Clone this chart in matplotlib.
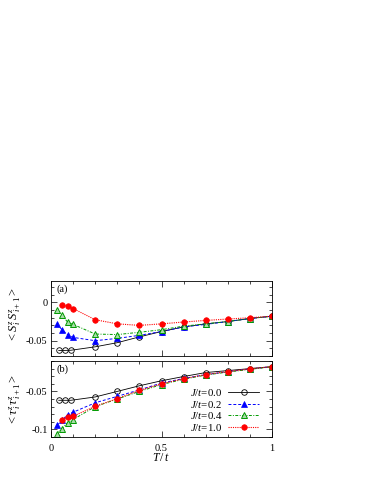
import matplotlib
matplotlib.use("Agg")
import matplotlib.pyplot as plt
from matplotlib.ticker import MultipleLocator, FixedLocator

plt.rcParams['font.family'] = ['Liberation Serif', 'DejaVu Serif']
plt.rcParams['mathtext.fontset'] = 'custom'
plt.rcParams['mathtext.rm'] = 'Liberation Serif'
plt.rcParams['mathtext.it'] = 'Liberation Serif:italic'
plt.rcParams['font.size'] = 7.5

# temperatures
T_low4 = [0.025, 0.05, 0.075, 0.1]
T_low3 = [0.05, 0.075, 0.1]
T_circ = [0.035, 0.0625, 0.09]
T_hi = [0.2, 0.3, 0.4, 0.5, 0.6, 0.7, 0.8, 0.9, 1.0]

T_J00 = T_circ + T_hi
T_J02 = T_low4 + T_hi
T_J04 = T_low4 + T_hi
T_J10 = T_low3 + T_hi

# panel (a): <S^z_i S^z_{i+1}>
S_J00 = [-0.0627, -0.0627, -0.0625, -0.058, -0.0526, -0.045, -0.038, -0.032, -0.028, -0.025, -0.021, -0.018]
S_J02 = [-0.028, -0.0356, -0.042, -0.0457, -0.050, -0.047, -0.043, -0.038, -0.032, -0.0287, -0.025, -0.021, -0.018]
S_J04 = [-0.0095, -0.017, -0.0256, -0.0287, -0.0413, -0.042, -0.039, -0.0356, -0.031, -0.028, -0.025, -0.021, -0.018]
S_J10 = [-0.003, -0.005, -0.008, -0.0226, -0.028, -0.030, -0.028, -0.0256, -0.0235, -0.0217, -0.020, -0.018]

# panel (b): <tau^z_i tau^z_{i+1}>
U_J00 = [-0.0617, -0.0617, -0.0617, -0.0573, -0.050, -0.0426, -0.036, -0.0304, -0.0252, -0.0226, -0.020, -0.0174]
U_J02 = [-0.0948, -0.088, -0.0804, -0.0774, -0.065, -0.0565, -0.048, -0.039, -0.033, -0.028, -0.024, -0.0205, -0.0175]
U_J04 = [-0.1056, -0.099, -0.091, -0.087, -0.070, -0.060, -0.050, -0.041, -0.034, -0.0285, -0.0245, -0.021, -0.0176]
U_J10 = [-0.087, -0.0834, -0.0826, -0.0696, -0.0595, -0.0487, -0.040, -0.0334, -0.0278, -0.0239, -0.0204, -0.0174]

labels = [r'$J/t$=0.0', r'$J/t$=0.2', r'$J/t$=0.4', r'$J/t$=1.0']
xticks = [0, 0.5, 1]
xticklabels = ['0', '0.5', '1']

styles = [
    dict(color='black', ls='-', marker='o', mfc='none', mec='black', ms=4.0, lw=0.6, mew=0.6),
    dict(color='#0000ff', ls=(0, (3, 2)), marker='^', mfc='#0000ff', mec='#0000ff', ms=3.8, lw=0.7, mew=0.5),
    dict(color='#009a00', ls=(0, (3, 1.5, 1, 1.5)), marker='^', mfc='#a8dca8', mec='#009a00', ms=4.2, lw=0.7, mew=0.7),
    dict(color='#ff0000', ls=(0, (1, 1)), marker='o', mfc='#ff0000', mec='#ff0000', ms=4.0, lw=0.8, mew=0.5),
]

W, H = 374, 484
fig = plt.figure(figsize=(W / 100, H / 100), dpi=100)
ax1 = fig.add_axes([51 / W, 1 - 356 / H, 221 / W, 75 / H])
ax2 = fig.add_axes([51 / W, 1 - 437 / H, 221 / W, 76 / H])

for T, y, st in zip([T_J00, T_J02, T_J04, T_J10], [S_J00, S_J02, S_J04, S_J10], styles):
    ax1.plot(T, y, **st)
lines = []
for T, y, st, lab in zip([T_J00, T_J02, T_J04, T_J10], [U_J00, U_J02, U_J04, U_J10], styles, labels):
    l, = ax2.plot(T, y, label=lab, **st)
    lines.append(l)

for ax in (ax1, ax2):
    ax.set_xlim(0, 1)
    ax.xaxis.set_major_locator(FixedLocator(xticks))
    ax.xaxis.set_minor_locator(MultipleLocator(0.1))
    ax.yaxis.set_minor_locator(MultipleLocator(0.01))
    ax.tick_params(which='both', direction='in', top=True, right=True, width=0.5)
    ax.tick_params(which='major', length=4)
    ax.tick_params(which='minor', length=2.5)
    ax.tick_params(axis='y', which='major', pad=2.5)
    ax.tick_params(axis='x', which='major', pad=5)
    for s in ax.spines.values():
        s.set_linewidth(0.6)

ax1.set_ylim(-0.07, 0.028)
ax1.yaxis.set_major_locator(FixedLocator([-0.05, 0]))
ax1.set_yticklabels(['-0.05', '0'])
ax1.set_xticklabels([])
ax2.set_ylim(-0.11, -0.01)
ax2.yaxis.set_major_locator(FixedLocator([-0.1, -0.05]))
ax2.set_yticklabels(['-0.1', '-0.05'])
ax2.set_xticklabels(xticklabels)

ax1.set_ylabel(r'$<S^z_{\,i}\, S^z_{\,i+1}>$', fontsize=9)
ax2.set_ylabel(r'$<\tau^z_{\,i}\, \tau^z_{\,i+1}>$', fontsize=9)
ax2.set_xlabel(r'$T\,/\,t$', labelpad=-1, fontsize=8.5)
ax1.yaxis.set_label_coords(-0.125, 0.55)
ax2.yaxis.set_label_coords(-0.125, 0.5)

ax1.text(0.025, 0.89, '(a)', transform=ax1.transAxes, ha='left', va='center')
ax2.text(0.025, 0.89, '(b)', transform=ax2.transAxes, ha='left', va='center')

ax2.legend(handles=lines, loc='lower right', frameon=False, markerfirst=False,
           handlelength=2.8, handletextpad=0.6, labelspacing=0.05,
           borderaxespad=0.0, bbox_to_anchor=(0.96, 0.0), fontsize=7.8)

fig.savefig('out.png', dpi=100)
